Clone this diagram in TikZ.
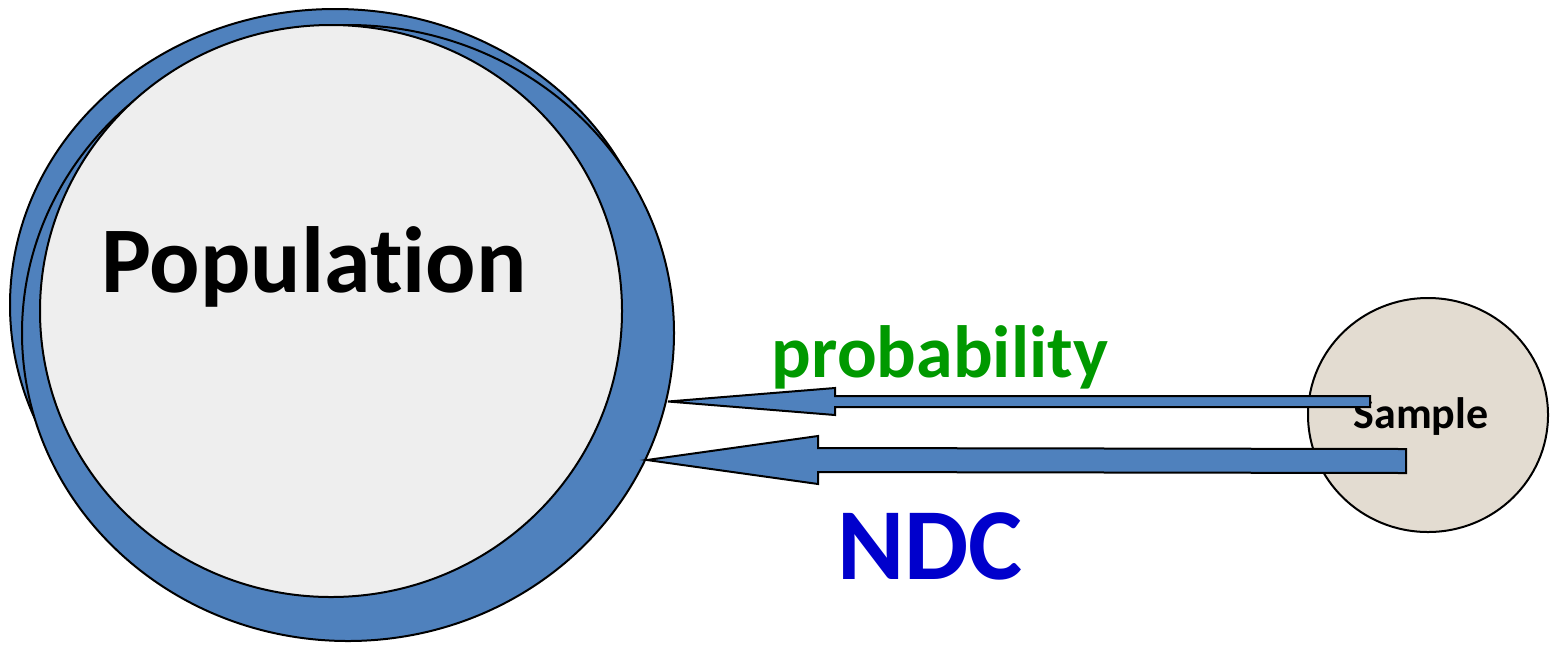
\documentclass[tikz,border=0pt]{standalone}
\usepackage{fontspec}
\setmainfont{Carlito}[Ligatures=NoCommon]
\usetikzlibrary{shapes.geometric,calc}

\definecolor{ringblue}{HTML}{4F81BD}
\definecolor{popgray}{HTML}{EEEEEE}
\definecolor{samplebeige}{HTML}{E3DCD1}
\definecolor{probgreen}{HTML}{009900}
\definecolor{ndcblue}{HTML}{0000CC}

% block arrow: tail, tip, half shaft, half head, head length
\newcommand{\blockarrow}[5]{%
  \draw[arrowbody] ($(#1)+(0,-#3)$) -- ($(#2)+(#5,-#3)$) -- ($(#2)+(#5,-#4)$) -- (#2)
    -- ($(#2)+(#5,#4)$) -- ($(#2)+(#5,#3)$) -- ($(#1)+(0,#3)$) -- cycle;}

\begin{document}
\begin{tikzpicture}[x=0.5pt,y=-0.5pt,
    blob/.style={ellipse,draw=black,line width=1pt,inner sep=0pt},
    word/.style={anchor=base,inner sep=0pt},
    arrowbody/.style={draw=black,fill=ringblue,line width=1pt,line join=miter}]
  \useasboundingbox (0,0) rectangle (1551,644);
  % population: two blue rings behind the grey disc
  \node[blob,fill=ringblue,minimum width=325pt,minimum height=296pt] (popback) at (335,305) {};
  \node[blob,fill=ringblue,minimum width=326pt,minimum height=308pt] (popring) at (348,333) {};
  \node[blob,fill=popgray,minimum width=291pt,minimum height=286pt] (pop) at (331,311) {};
  \node[word,font={\fontsize{47}{50}\selectfont\bfseries}] (poplabel) at (314,292) {Population};
  % sample
  \node[blob,fill=samplebeige,minimum width=120pt,minimum height=117pt] (sample) at (1428,415) {};
  \node[word,font={\fontsize{22}{24}\selectfont\bfseries}] (samplelabel) at (1421,428) {Sample};
  % arrows back to the population
  \coordinate (probtail) at (1370,401.5);
  \coordinate (probtip) at (668,401.5);
  \blockarrow{probtail}{probtip}{5.5}{13.5}{167}
  \coordinate (ndctail) at (1406,461);
  \coordinate (ndctip) at (647,460);
  \blockarrow{ndctail}{ndctip}{12}{24}{171}
  \node[word,text=probgreen,font={\fontsize{37}{40}\selectfont\bfseries}] (problabel) at (940,377) {probability};
  \node[word,text=ndcblue,font={\fontsize{51}{54}\selectfont\bfseries}] (ndclabel) at (930,579) {NDC};
\end{tikzpicture}
\end{document}
